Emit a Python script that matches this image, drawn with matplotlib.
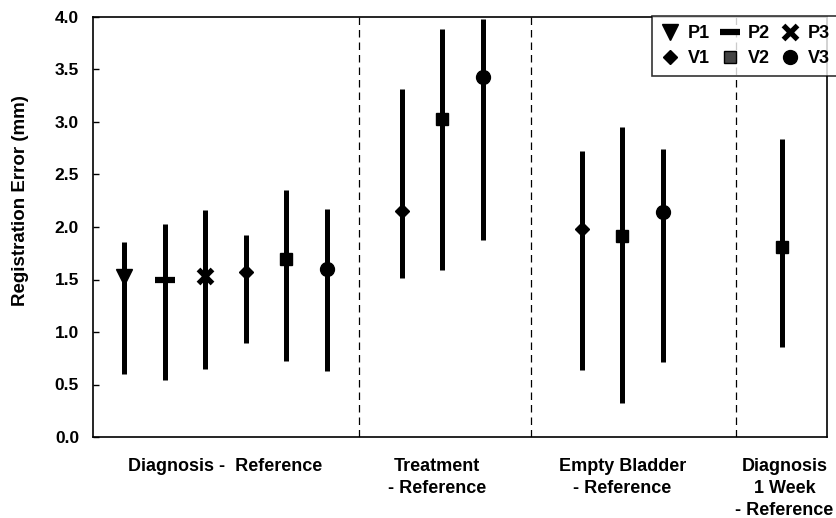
import matplotlib
matplotlib.use("Agg")
import matplotlib.pyplot as plt
from matplotlib.lines import Line2D

plt.rcParams['font.family'] = ['Liberation Sans', 'DejaVu Sans']
plt.rcParams['font.weight'] = 'bold'

# ---- data ----
series_names = ["P1", "P2", "P3", "V1", "V2", "V3"]
series_markers = ["v", "_", "x", "D", "s", "o"]

# Diagnosis - Reference (P1, P2, P3, V1, V2, V3)
diag_x = [1, 2, 3, 4, 5, 6]
diag_mean = [1.52, 1.50, 1.53, 1.57, 1.70, 1.60]
diag_high = [1.86, 2.03, 2.16, 1.92, 2.35, 2.17]
diag_low = [0.60, 0.54, 0.65, 0.90, 0.72, 0.63]
diag_series = ["P1", "P2", "P3", "V1", "V2", "V3"]

# Treatment - Reference (V1, V2, V3)
treat_x = [7.85, 8.85, 9.85]
treat_mean = [2.15, 3.03, 3.43]
treat_high = [3.31, 3.89, 3.98]
treat_low = [1.51, 1.59, 1.88]
treat_series = ["V1", "V2", "V3"]

# Empty Bladder - Reference (V1, V2, V3)
empty_x = [12.3, 13.3, 14.3]
empty_mean = [1.98, 1.91, 2.14]
empty_high = [2.72, 2.95, 2.74]
empty_low = [0.64, 0.32, 0.71]
empty_series = ["V1", "V2", "V3"]

# Diagnosis 1 Week - Reference (V2)
week_x = [17.25]
week_mean = [1.81]
week_high = [2.84]
week_low = [0.86]
week_series = ["V2"]

separators = [6.8, 11.05, 16.1]
group_labels = ["Diagnosis -  Reference", "Treatment\n- Reference",
                "Empty Bladder\n- Reference", "Diagnosis\n1 Week\n- Reference"]
group_label_x = [3.5, 8.72, 13.3, 17.3]
yticks = [0.0, 0.5, 1.0, 1.5, 2.0, 2.5, 3.0, 3.5, 4.0]

# ---- styles ----
marker_size = {"v": 12, "_": 15, "x": 10, "D": 7, "s": 9, "o": 10}
marker_mew = {"v": 1, "_": 4.5, "x": 3.8, "D": 1, "s": 1, "o": 1}

fig = plt.figure(figsize=(8.36, 5.18), dpi=100)
ax = fig.add_axes([93/836, 1 - 437/518, (827-93)/836, (437-17)/518])

groups = [
    (diag_x, diag_mean, diag_high, diag_low, diag_series),
    (treat_x, treat_mean, treat_high, treat_low, treat_series),
    (empty_x, empty_mean, empty_high, empty_low, empty_series),
    (week_x, week_mean, week_high, week_low, week_series),
]
for xs, means, highs, lows, sers in groups:
    ax.vlines(xs, lows, highs, colors="black", linewidth=3.6, zorder=2)
    for x, m, s in zip(xs, means, sers):
        mk = series_markers[series_names.index(s)]
        ax.plot([x], [m], linestyle="none", marker=mk, color="black",
                markersize=marker_size[mk], markeredgewidth=marker_mew[mk],
                zorder=3)

for sx in separators:
    ax.axvline(sx, color="black", linewidth=0.9, linestyle=(0, (6, 4)), zorder=1)

ax.set_xlim(0.23, 18.35)
ax.set_ylim(0, 4)
ax.set_yticks(yticks)
ax.set_yticklabels([f"{t:.1f}" for t in yticks], fontsize=12.5, fontweight="bold")
ax.tick_params(axis="y", direction="in", length=4, width=1, pad=10)
ax.set_xticks([])
for sp in ax.spines.values():
    sp.set_linewidth(1.2)
fig.text(21/836, 1 - 201/518, "Registration Error (mm)", rotation=90,
         ha="center", va="center", fontsize=13.5, fontweight="bold")

for lx, lab in zip(group_label_x, group_labels):
    ax.text(lx, -0.2, lab, ha="center", va="top", fontsize=13,
            fontweight="bold", multialignment="center", linespacing=1.38,
            transform=ax.transData, clip_on=False)

# legend
handles = []
order = ["P1", "V1", "P2", "V2", "P3", "V3"]
for name in order:
    mk = series_markers[series_names.index(name)]
    face = "#444444" if mk == "s" else "black"
    handles.append(Line2D([], [], linestyle="none", marker=mk, color="black",
                          markerfacecolor=face,
                          markersize=marker_size[mk],
                          markeredgewidth=marker_mew[mk]))
leg = fig.legend(handles, order, ncol=3, loc="upper right",
                 bbox_to_anchor=(1.0 + 3/836, 1 - 16/518),
                 fontsize=13, frameon=True, fancybox=False,
                 edgecolor="black", handlelength=1.0, handletextpad=0.5,
                 columnspacing=0.6, labelspacing=0.45, borderpad=0.5,
                 borderaxespad=0)
leg.get_frame().set_linewidth(1.2)
for t in leg.get_texts():
    t.set_fontweight("bold")

fig.savefig("out.png", dpi=100)
